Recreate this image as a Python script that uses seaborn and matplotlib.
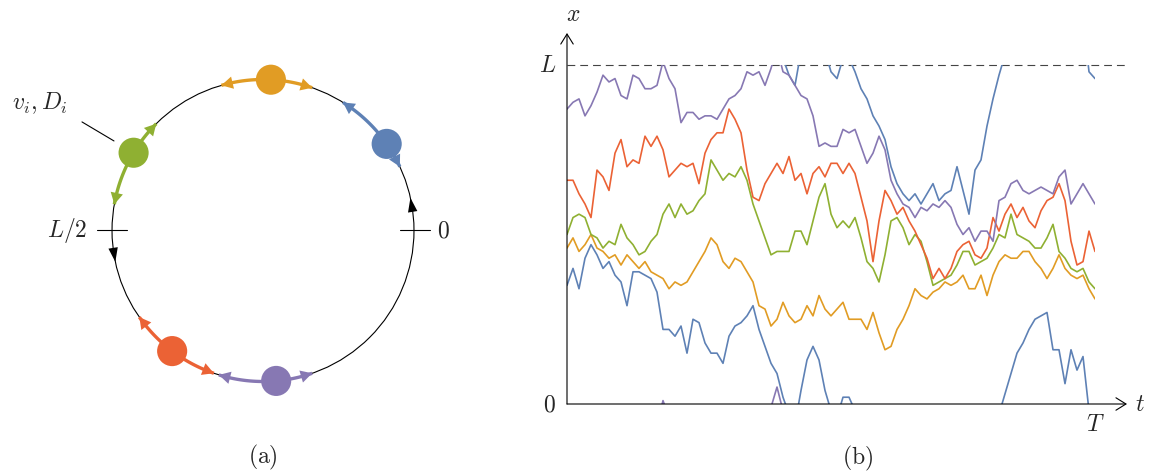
import numpy as np
import pandas as pd
import matplotlib
matplotlib.use('Agg')
import matplotlib.pyplot as plt
from matplotlib.patches import Circle, Rectangle
import seaborn as sns

# five particles, Mathematica default colours
names = ['blue', 'orange', 'green', 'red', 'purple']
colors = ['#5E81B5', '#E19C24', '#8FB032', '#EB6235', '#8778B3']

# panel (a): where each particle sits on the ring, and how far its arc reaches (degrees)
ring_angle = [35, 87, 149, 233, 275]
arc_start = [25, 71, 135, 215, 253]
arc_end = [58, 106, 170, 251, 289]

# panel (b): x(t) in percent of L on an even time grid from 0 to T
# values are unwrapped, anything outside 0..100 comes back in on the other side
blue_x = [35, 40, 34, 43, 47, 44, 40, 42, 38, 36,
          29, 39, 39, 38, 37, 33, 22, 22, 20, 23,
          15, 25, 24, 18, 15, 15, 12, 20, 23, 24,
          26, 29, 22, 17, 12, 9, 2, -3, -6, 4,
          13, 17, 13, 4, -2, -4, 2, 2, -2, -7,
          -10, -15, -18, -22, -30, -35, -38, -40, -38, -41,
          -38, -35, -40, -38, -37, -30, -37, -44, -31, -28,
          -18, -10, -3, 3, 9, 15, 18, 22, 25, 26,
          27, 16, 16, 6, 16, 10, 14, -2, -4]
orange_x = [46, 49, 45, 47, 50, 46, 45, 43, 44, 41,
            44, 42, 40, 42, 39, 38, 37, 34, 36, 35,
            36, 39, 42, 45, 49, 47, 42, 40, 43, 42,
            39, 36, 29, 28, 23, 25, 30, 26, 24, 25,
            29, 26, 32, 28, 26, 28, 30, 25, 25, 25,
            22, 27, 21, 16, 17, 22, 25, 29, 34, 32,
            31, 33, 34, 36, 35, 36, 38, 34, 34, 38,
            32, 38, 42, 44, 43, 43, 45, 45, 42, 40,
            37, 40, 44, 40, 38, 37, 38, 34, 31]
green_x = [50, 55, 56, 55, 50, 49, 46, 48, 47, 53,
           49, 47, 44, 45, 48, 50, 56, 59, 55, 59,
           56, 57, 60, 62, 72, 69, 66, 68, 67, 70,
           66, 59, 54, 49, 44, 45, 45, 45, 51, 51,
           47, 54, 61, 65, 56, 52, 54, 52, 55, 49,
           42, 40, 36, 44, 54, 55, 52, 47, 50, 48,
           42, 35, 36, 37, 38, 41, 45, 45, 41, 42,
           43, 46, 50, 49, 56, 50, 49, 48, 46, 46,
           49, 53, 45, 43, 40, 39, 40, 36, 34]
red_x = [66, 66, 62, 59, 55, 69, 67, 63, 74, 78,
         70, 72, 71, 79, 76, 79, 75, 67, 69, 71,
         70, 71, 65, 74, 78, 80, 80, 87, 84, 80,
         69, 61, 60, 65, 68, 71, 68, 73, 66, 68,
         62, 68, 70, 67, 71, 71, 68, 71, 68, 61,
         54, 42, 54, 63, 60, 56, 58, 54, 51, 47,
         43, 37, 40, 37, 40, 45, 47, 48, 44, 43,
         46, 55, 51, 56, 59, 55, 58, 54, 52, 57,
         60, 61, 65, 60, 48, 41, 42, 51, 45]
purple_x = [87, 89, 90, 85, 88, 92, 97, 95, 96, 91,
            90, 97, 96, 93, 93, 94, 101, 96, 93, 83,
            86, 86, 84, 85, 85, 84, 87, 90, 91, 93,
            98, 97, 98, 94, 99, 105, 98, 97, 94, 91,
            90, 85, 76, 77, 76, 76, 81, 80, 81, 76,
            71, 74, 79, 75, 66, 62, 59, 58, 55, 58,
            57, 59, 58, 60, 58, 53, 50, 52, 48, 51,
            51, 48, 60, 61, 65, 66, 63, 62, 63, 64,
            63, 62, 67, 69, 59, 62, 65, 62, 59]

series = [blue_x, orange_x, green_x, red_x, purple_x]

sns.set_style('white')
plt.rcParams['mathtext.fontset'] = 'cm'
FS = 17

fig = plt.figure(figsize=(11.49, 4.74), dpi=100)

# ---------------- panel (b) ----------------
t_end = 560 / 528    # axis arrow goes a bit past T
x_top = 371 / 339    # and a bit past L
ax = fig.add_axes([567 / 1149, 70 / 474, 560 / 1149, 371 / 474])
ax.set_xlim(0, t_end)
ax.set_ylim(0, x_top)
ax.axis('off')

ax.axhline(1.0, color='#444444', lw=0.8, ls=(0, (7, 4.5)), zorder=1)

t = np.linspace(0, 1, len(blue_x))
parts = []
for name, vals in zip(names, series):
    v = np.array(vals) / 100.0
    for shift in (-1, 0, 1):
        parts.append(pd.DataFrame({'t': t, 'pos': v + shift,
                                   'particle': name, 'copy': shift}))
df = pd.concat(parts, ignore_index=True)

n_before = len(ax.lines)
sns.lineplot(data=df, x='t', y='pos', hue='particle', units='copy',
             estimator=None, sort=False, palette=dict(zip(names, colors)),
             hue_order=names, lw=1.2, legend=False, ax=ax)
for line in ax.lines[n_before:]:
    line.set_clip_path(Rectangle((0, 0), 1, 1, transform=ax.transData))
    line.set_solid_joinstyle('round')

arrow_kw = dict(arrowstyle='->,head_length=0.45,head_width=0.28', lw=0.8,
                color='k', mutation_scale=16, shrinkA=0, shrinkB=0)
ax.annotate('', xy=(1, 0), xytext=(0, 0), xycoords='axes fraction',
            arrowprops=arrow_kw)
ax.annotate('', xy=(0, 1), xytext=(0, 0), xycoords='axes fraction',
            arrowprops=arrow_kw)

ax.text(-0.021, 1.0, r'$L$', ha='right', va='center', fontsize=FS)
ax.text(-0.021, 0.0, r'$0$', ha='right', va='center', fontsize=FS)
ax.text(1.0, -0.059, r'$T$', ha='center', va='center', fontsize=FS)
ax.text(0.011, 1.051, r'$x$', ha='center', va='center', fontsize=FS,
        transform=ax.transAxes)
ax.text(1.023, 0.0, r'$t$', ha='center', va='center', fontsize=FS,
        transform=ax.transAxes)

fig.text(858 / 1149, 1 - 458 / 474, r'$\mathrm{(b)}$', ha='center', va='center',
         fontsize=FS)

# ---------------- panel (a) ----------------
axa = fig.add_axes([0, 0, 470 / 1149, 1])
axa.set_xlim(-1.742, 1.371)
axa.set_ylim(-1.6126, 1.5265)
axa.axis('off')

axa.add_patch(Circle((0, 0), 1.0, fill=False, lw=0.8, color='k'))

# ticks at 0 and L/2
axa.plot([0.907, 1.106], [0, 0], color='k', lw=0.8)
axa.plot([-1.099, -0.90], [0, 0], color='k', lw=0.8)
axa.text(1.152, 0, r'$0$', ha='left', va='center', fontsize=FS)
axa.text(-1.166, 0, r'$L/2$', ha='right', va='center', fontsize=FS)


def ring_pt(deg):
    a = np.radians(deg)
    return np.cos(a), np.sin(a)


# black direction arrows on the ring
black_head = dict(arrowstyle='-|>,head_length=0.6,head_width=0.2', lw=0,
                  color='k', mutation_scale=17, shrinkA=0, shrinkB=0)
for tip, tail in [(12.5, 6.0), (192.0, 186.0)]:
    axa.annotate('', xy=ring_pt(tip), xytext=ring_pt(tail), arrowprops=black_head)

# coloured arcs with heads at both ends
for c, mid, lo, hi in zip(colors, ring_angle, arc_start, arc_end):
    th = np.radians(np.linspace(lo, hi, 80))
    axa.plot(np.cos(th), np.sin(th), color=c, lw=2.4, solid_capstyle='butt', zorder=2)
    head = dict(arrowstyle='-|>,head_length=0.55,head_width=0.3', lw=0,
                color=c, mutation_scale=15, shrinkA=0, shrinkB=0)
    axa.annotate('', xy=ring_pt(lo), xytext=ring_pt(lo + 5), arrowprops=head, zorder=2)
    axa.annotate('', xy=ring_pt(hi), xytext=ring_pt(hi - 5), arrowprops=head, zorder=2)

px, py = zip(*[ring_pt(a) for a in ring_angle])
sns.scatterplot(x=list(px), y=list(py), hue=names, palette=dict(zip(names, colors)),
                s=470, linewidth=0, legend=False, ax=axa, zorder=3)

axa.plot([-1.199, -0.987], [0.719, 0.593], color='k', lw=0.8)
axa.text(-1.477, 0.844, r'$v_i, D_i$', ha='center', va='center', fontsize=FS)

fig.text(263 / 1149, 1 - 457 / 474, r'$\mathrm{(a)}$', ha='center', va='center',
         fontsize=FS)

fig.savefig('out.png', dpi=100)
